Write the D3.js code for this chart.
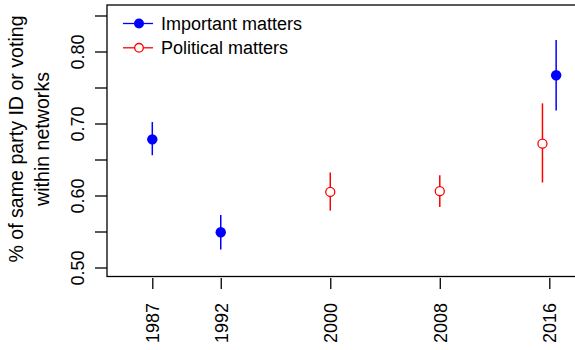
<!DOCTYPE html>
<html>
<meta charset="utf-8">
<head>
  <title>Same party ID within networks</title>
</head>
<style>
body { margin: 0; background: white; }
text {
  font-family: "Liberation Sans", Arial, Helvetica, sans-serif;
  font-size: 18px;
  fill: black;
}
</style>
<body>
  <svg width="575" height="350"></svg>

  <script src="https://cdnjs.cloudflare.com/ajax/libs/d3/7.8.5/d3.min.js"></script>
  <script>
// important matters (filled blue)
var importantYears = [1987, 1992, 2016];
var importantMean  = [0.678, 0.549, 0.767];
var importantLow   = [0.656, 0.525, 0.718];
var importantHigh  = [0.702, 0.573, 0.816];

// political matters (open red)
var politicalYears = [2000, 2008, 2016];
var politicalMean  = [0.605, 0.606, 0.672];
var politicalLow   = [0.579, 0.584, 0.618];
var politicalHigh  = [0.632, 0.628, 0.728];

var xTicks = [1987, 1992, 2000, 2008, 2016];
var yTicks = [0.50, 0.55, 0.60, 0.65, 0.70, 0.75, 0.80, 0.85];
var yLabels = [0.50, 0.60, 0.70, 0.80];
var legendNames = ['Important matters', 'Political matters'];

var svg = d3.select('svg');

var box = {left: 107, right: 577, top: 5, bottom: 276.5};

var x = d3.scaleLinear().domain([1987, 2016]).range([152.3, 549.3]);
var y = d3.scaleLinear().domain([0.5, 0.8]).range([267.5, 51.5]);

// same year points pushed apart a bit
var dodge = 0.5;

// frame
svg.append('rect')
  .attr('x', box.left).attr('y', box.top)
  .attr('width', box.right - box.left).attr('height', box.bottom - box.top)
  .attr('fill', 'none').attr('stroke', 'black').attr('stroke-width', 1.3);

// y axis
var yAxis = svg.append('g')
  .attr('transform', 'translate(' + box.left + ',0)')
  .call(d3.axisLeft(y).tickValues(yTicks).tickSize(12)
    .tickFormat(function(d) {
      return yLabels.some(function(v) { return Math.abs(v - d) < 1e-9; }) ? d3.format('.2f')(d) : '';
    }));
yAxis.select('.domain').remove();
yAxis.selectAll('line').attr('stroke', 'black').attr('stroke-width', 1.3);
yAxis.selectAll('text')
  .attr('x', null).attr('dy', null)
  .attr('text-anchor', 'middle')
  .attr('transform', 'translate(' + (84 - box.left) + ',0) rotate(-90)')
  .style('font-size', '18px')
  .style('font-family', '"Liberation Sans", Arial, sans-serif');

// x axis
var xAxis = svg.append('g')
  .attr('transform', 'translate(0,278)')
  .call(d3.axisBottom(x).tickValues(xTicks).tickSize(11).tickFormat(d3.format('d')));
xAxis.select('.domain').remove();
xAxis.selectAll('line').attr('stroke', 'black').attr('stroke-width', 1.3);
xAxis.selectAll('text')
  .attr('y', null).attr('dy', '0.35em')
  .attr('text-anchor', 'end')
  .attr('transform', 'translate(0,' + (303 - 278) + ') rotate(-90)')
  .style('font-size', '18px')
  .style('font-family', '"Liberation Sans", Arial, sans-serif');

// y title
var title = svg.append('text')
  .attr('transform', 'translate(23,139) rotate(-90)')
  .attr('text-anchor', 'middle')
  .style('font-size', '19.6px');
title.append('tspan').attr('x', 0).attr('y', 0).text('% of same party ID or voting');
title.append('tspan').attr('x', 0).attr('y', 26).text('within networks');

function drawSeries(years, mean, low, high, shift, color, filled) {
  var rows = years.map(function(yr, i) {
    return {year: yr, mean: mean[i], low: low[i], high: high[i]};
  });
  var g = svg.append('g');
  g.selectAll('line').data(rows).enter().append('line')
    .attr('x1', function(d) { return x(d.year + (d.year === 2016 ? shift : 0)); })
    .attr('x2', function(d) { return x(d.year + (d.year === 2016 ? shift : 0)); })
    .attr('y1', function(d) { return y(d.low); })
    .attr('y2', function(d) { return y(d.high); })
    .attr('stroke', color).attr('stroke-width', 1.5);
  g.selectAll('circle').data(rows).enter().append('circle')
    .attr('cx', function(d) { return x(d.year + (d.year === 2016 ? shift : 0)); })
    .attr('cy', function(d) { return y(d.mean); })
    .attr('r', filled ? 5.2 : 4.5)
    .attr('fill', filled ? color : 'white')
    .attr('stroke', color).attr('stroke-width', filled ? 0 : 1.3);
}

drawSeries(importantYears, importantMean, importantLow, importantHigh, dodge, '#0000ff', true);
drawSeries(politicalYears, politicalMean, politicalLow, politicalHigh, -dodge, '#ff0000', false);

// legend
var legend = svg.append('g');
var legendColors = ['#0000ff', '#ff0000'];
legendNames.forEach(function(name, i) {
  var ly = 23.5 + i * 24.3;
  legend.append('line')
    .attr('x1', 123).attr('x2', 153).attr('y1', ly).attr('y2', ly)
    .attr('stroke', legendColors[i]).attr('stroke-width', 1.3);
  legend.append('circle')
    .attr('cx', 139).attr('cy', ly)
    .attr('r', i === 0 ? 5 : 4.3)
    .attr('fill', i === 0 ? legendColors[i] : 'white')
    .attr('stroke', legendColors[i]).attr('stroke-width', i === 0 ? 0 : 1.3);
  legend.append('text')
    .attr('x', 161).attr('y', ly).attr('dy', '0.35em')
    .text(name);
});
  </script>
</body>
</html>
